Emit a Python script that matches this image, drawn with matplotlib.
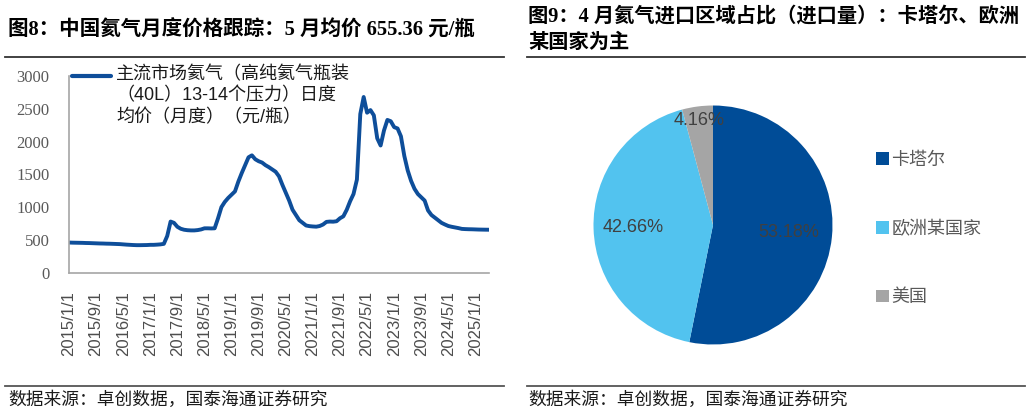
import pandas as pd
import matplotlib
matplotlib.use('Agg')
import matplotlib.pyplot as plt
from matplotlib.lines import Line2D
from matplotlib.patches import Patch
import numpy as np

plt.rcParams['font.family'] = ['Liberation Sans', 'Noto Sans CJK SC', 'DejaVu Sans']

# monthly helium price, 2015/1 - 2025/5 (yuan/bottle)
months = pd.date_range('2015-01-01', periods=125, freq='MS')
price = [
    460, 458, 457, 456, 455, 453, 452, 450, 448, 446, 445, 443,        # 2015
    442, 440, 438, 436, 432, 428, 425, 422, 420, 420, 421, 422,        # 2016
    425, 425, 428, 432, 440, 560, 780, 760, 700, 670, 655, 648,        # 2017
    645, 645, 650, 660, 677, 677, 675, 677, 830, 1000, 1080, 1140,     # 2018
    1190, 1240, 1390, 1520, 1640, 1760, 1790, 1730, 1700, 1680, 1640, 1610,  # 2019
    1575, 1540, 1470, 1340, 1220, 1100, 960, 880, 800, 760, 720, 710,  # 2020
    705, 702, 712, 735, 775, 780, 778, 785, 830, 860, 960, 1090,       # 2021
    1200, 1420, 2420, 2680, 2440, 2480, 2400, 2050, 1940, 2170, 2330, 2310,  # 2022
    2220, 2200, 2080, 1780, 1560, 1400, 1280, 1200, 1150, 1100, 950, 880,    # 2023
    840, 800, 760, 735, 712, 700, 690, 680, 668, 665, 663, 662,        # 2024
    660, 658, 657, 656, 655.36,                                        # 2025
]
line_label = '主流市场氦气（高纯氦气瓶装\n（40L）13-14个压力）日度\n均价（月度）（元/瓶）'

# April helium import share by region
regions = ['卡塔尔', '欧洲某国家', '美国']
shares = [53.18, 42.66, 4.16]
pie_colors = ['#004C97', '#52C3EF', '#A5A5A5']

W, H = 1032, 413
fig = plt.figure(figsize=(W / 100, H / 100), dpi=100)


def box(x0, y0, x1, y1):
    # pixel box (top-left origin) -> figure fraction rect
    return [x0 / W, 1 - y1 / H, (x1 - x0) / W, (y1 - y0) / H]


# ---- left: line chart ----
ax = fig.add_axes(box(69, 76, 489, 272.7))
x = np.arange(len(price))
line, = ax.plot(x, price, color='#0E4E9A', lw=2.8, solid_capstyle='round')
ax.set_xlim(0, len(price) - 1)
ax.set_ylim(0, 3000)
ax.set_yticks(range(0, 3001, 500))
ticks = x[::8]
ax.set_xticks(ticks)
ax.set_xticklabels([f'{months[i].year}/{months[i].month}/1' for i in ticks],
                   rotation=90, fontsize=12, color='#4D4D4D')
for lab in ax.get_yticklabels():
    lab.set_fontfamily('Liberation Serif')
    lab.set_fontsize(12)
    lab.set_color('#595959')
ax.tick_params(axis='both', length=0)
ax.tick_params(axis='y', pad=14)
ax.tick_params(axis='x', pad=13)
for s in ['top', 'right']:
    ax.spines[s].set_visible(False)
for s in ['left', 'bottom']:
    ax.spines[s].set_color('#A6A6A6')
    ax.spines[s].set_linewidth(1.2)

# legend drawn by hand so the handle sits on the first line
fig.add_artist(Line2D([72 / W, 111 / W], [1 - 76 / H, 1 - 76 / H], color='#0E4E9A',
                      lw=3, solid_capstyle='round', transform=fig.transFigure))
fig.text(116 / W, 1 - 66 / H, line_label, fontsize=13, va='top', ha='left',
         color='#1A1A1A', linespacing=1.3)

# ---- right: pie chart ----
r = 119.5
cx, cy = 713, 225
ax2 = fig.add_axes(box(cx - r, cy - r, cx + r, cy + r))
wedges, _ = ax2.pie(shares, colors=pie_colors, startangle=90, counterclock=False,
                    radius=1)
ax2.set_xlim(-1, 1)
ax2.set_ylim(-1, 1)
ax2.set_aspect('equal')
dists = [0.64, 0.67, 0.88]
for w, v, d in zip(wedges, shares, dists):
    th = np.deg2rad((w.theta1 + w.theta2) / 2)
    ax2.text(d * np.cos(th), d * np.sin(th), f'{v:.2f}%', ha='center', va='center',
             fontsize=13, color='#404040')

handles = [Patch(facecolor=c, edgecolor='none') for c in pie_colors]
fig.legend(handles, regions, loc='upper left', bbox_to_anchor=(867 / W, 1 - 143 / H),
           frameon=False, fontsize=13, labelcolor='#595959', handlelength=0.7,
           handleheight=0.7, handletextpad=0.15, labelspacing=2.85, borderpad=0)

# ---- titles, rules and source notes ----
title_font = ['Liberation Serif', 'Noto Sans CJK SC']
fig.text(8 / W, 1 - 30 / H, '图8：中国氦气月度价格跟踪：5 月均价 655.36 元/瓶',
         fontsize=14.8, fontweight='bold', family=title_font, va='center', ha='left')
fig.text(528 / W, 1 - 17 / H, '图9：4 月氦气进口区域占比（进口量）：卡塔尔、欧洲',
         fontsize=14.6, fontweight='bold', family=title_font, va='center', ha='left')
fig.text(528 / W, 1 - 43 / H, '某国家为主',
         fontsize=14.6, fontweight='bold', family=title_font, va='center', ha='left')

for (x0, x1) in [(5, 504), (527, 1025)]:
    fig.add_artist(Line2D([x0 / W, x1 / W], [1 - 57 / H] * 2, color='#333333', lw=1.3,
                          transform=fig.transFigure))
    fig.add_artist(Line2D([x0 / W, x1 / W], [1 - 386 / H] * 2, color='#555555', lw=1.3,
                          transform=fig.transFigure))

fig.text(8 / W, 1 - 400 / H, '数据来源：卓创数据，国泰海通证券研究', fontsize=12.8,
         va='center', ha='left', color='#1A1A1A')
fig.text(528 / W, 1 - 400 / H, '数据来源：卓创数据，国泰海通证券研究', fontsize=12.8,
         va='center', ha='left', color='#1A1A1A')

fig.savefig('out.png', dpi=100)
